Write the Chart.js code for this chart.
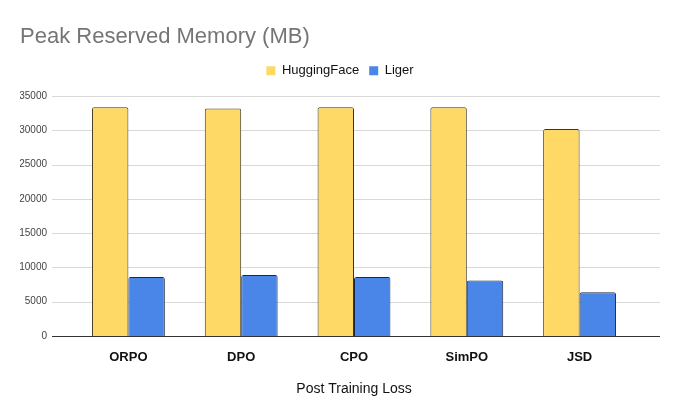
<!DOCTYPE html>
<html>
<head>
<meta charset="utf-8">
<script src="https://cdn.jsdelivr.net/npm/chart.js@4"></script>
<style>
  html, body { margin: 0; padding: 0; background: #fff; }
  #wrap { width: 680px; height: 420px; }
</style>
</head>
<body>
<div id="wrap"><canvas id="memChart" width="680" height="420"></canvas></div>
<script>
const categories = ["ORPO", "DPO", "CPO", "SimPO", "JSD"];
const huggingFaceMB = [33400, 33200, 33400, 33400, 30200];
const ligerMB = [8600, 8900, 8600, 8100, 6400];
const yTickMax = 35000;
const yTickStep = 5000;

// horizontal grid lines run past the bar area, like the sheets chart
const wideGrid = {
  id: 'wideGrid',
  beforeDatasetsDraw(chart) {
    const y = chart.scales.y, ctx = chart.ctx, a = chart.chartArea;
    ctx.save();
    ctx.lineWidth = 1;
    ctx.strokeStyle = '#d9d9d9';
    y.ticks.forEach(t => {
      if (t.value === 0) return;
      const py = Math.round(y.getPixelForValue(t.value)) + 0.5;
      ctx.beginPath();
      ctx.moveTo(a.left - 20, py);
      ctx.lineTo(a.right + 24, py);
      ctx.stroke();
    });
    ctx.restore();
  },
  afterDatasetsDraw(chart) {
    const y = chart.scales.y, ctx = chart.ctx, a = chart.chartArea;
    const py = Math.round(y.getPixelForValue(0)) + 0.5;
    ctx.save();
    ctx.strokeStyle = '#333333';
    ctx.lineWidth = 1;
    ctx.beginPath();
    ctx.moveTo(a.left - 20, py);
    ctx.lineTo(a.right + 24, py);
    ctx.stroke();
    ctx.restore();
  }
};

const ctx = document.getElementById('memChart').getContext('2d');
new Chart(ctx, {
  type: 'bar',
  data: {
    labels: categories,
    datasets: [
      {
        label: 'HuggingFace',
        data: huggingFaceMB,
        backgroundColor: '#ffd966',
        borderColor: '#3a3520',
        borderWidth: 1,
        borderRadius: 2
      },
      {
        label: 'Liger',
        data: ligerMB,
        backgroundColor: '#4a86e8',
        borderColor: '#1c2a40',
        borderWidth: 1,
        borderRadius: 2
      }
    ]
  },
  options: {
    responsive: false,
    animation: false,
    devicePixelRatio: 1,
    datasets: {
      bar: { categoryPercentage: 0.646, barPercentage: 1 }
    },
    layout: { padding: { top: 0, left: 20, right: 20, bottom: 0 } },
    plugins: {
      title: {
        display: true,
        text: 'Peak Reserved Memory (MB)',
        align: 'start',
        color: '#757575',
        font: { family: '"Liberation Sans", Arial, sans-serif', size: 22, weight: 'normal' },
        padding: { top: 23.4, bottom: 4.4 }
      },
      legend: {
        display: true,
        position: 'top',
        labels: {
          boxWidth: 9,
          boxHeight: 9,
          padding: 10,
          color: '#111',
          font: { family: '"Liberation Sans", Arial, sans-serif', size: 13 },
          // plain filled squares, no outline
          generateLabels(chart) {
            return Chart.defaults.plugins.legend.labels.generateLabels(chart)
              .map(l => Object.assign(l, { lineWidth: 0, strokeStyle: 'rgba(0,0,0,0)' }));
          }
        }
      },
      tooltip: { enabled: false }
    },
    scales: {
      x: {
        offset: true,
        grid: { display: false, drawTicks: false },
        border: { display: false },
        ticks: {
          padding: 14,
          color: '#111',
          font: { family: '"Liberation Sans", Arial, sans-serif', size: 13, weight: 'bold' }
        },
        title: {
          display: true,
          text: 'Post Training Loss',
          color: '#111',
          font: { family: '"Liberation Sans", Arial, sans-serif', size: 14 },
          padding: { top: 0, bottom: 22 }
        },
        afterFit(s) { s.height = 84; }
      },
      // empty spacer axes keep the plot where the reference puts it
      xTop: {
        type: 'category',
        position: 'top',
        display: true,
        grid: { display: false, drawTicks: false },
        border: { display: false },
        ticks: { display: false },
        afterFit(s) { s.height = 9; }
      },
      y: {
        min: 0,
        max: yTickMax,
        grid: { display: false, drawTicks: false },
        border: { display: false },
        ticks: {
          stepSize: yTickStep,
          padding: 25,
          color: '#444',
          font: { family: '"Liberation Sans", Arial, sans-serif', size: 10 },
          callback: v => String(v)
        },
        afterFit(s) { s.width = 52; }
      },
      yRight: {
        type: 'linear',
        position: 'right',
        display: true,
        grid: { display: false, drawTicks: false },
        border: { display: false },
        ticks: { display: false },
        afterFit(s) { s.width = 24; }
      }
    }
  },
  plugins: [wideGrid]
});
</script>
</body>
</html>
